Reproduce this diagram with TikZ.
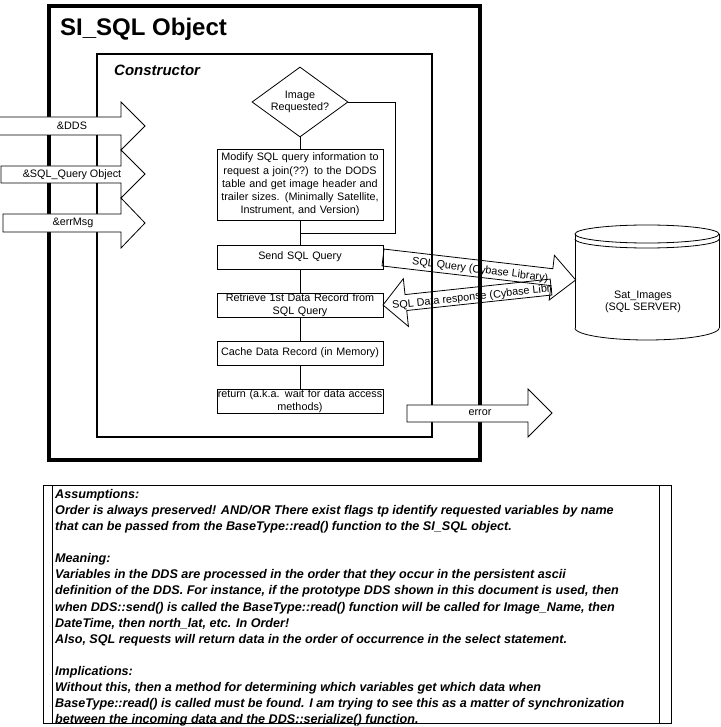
\documentclass[tikz,border=0pt]{standalone}
\usepackage{fontspec}
\setmainfont{Liberation Sans}
\newfontfamily\notefont{Liberation Sans}
\usetikzlibrary{shapes.geometric}
\tikzset{
  thin line/.style={line width=0.8pt},
  flowbox/.style={draw, thin line, text width=166pt, align=center, inner sep=0pt,
     font=\fontsize{10.8}{13.2}\selectfont},
  blockarrow/.style={draw, thin line, fill=white, line join=miter},
  hollowarrow/.style={draw, thin line, line join=miter},
  conn/.style={draw, thin line},
  lbl/.style={inner sep=0pt, font=\fontsize{10.8}{13.2}\selectfont},
}
\begin{document}
\begin{tikzpicture}[x=1pt,y=-1pt]
\useasboundingbox[fill=white] (0,0) rectangle (720,727);

% outer object box and constructor box
\node[draw, line width=4pt, minimum width=431pt, minimum height=454pt, inner sep=0pt] (outer) at (264.5,233) {};
\node[anchor=west, inner sep=0pt, font=\bfseries\fontsize{24}{24}\selectfont] (title) at (60,29) {SI\_SQL Object};
\node[draw, line width=2pt, minimum width=334.5pt, minimum height=382.8pt, inner sep=0pt] (inner) at (264.55,245.4) {};
\node[anchor=west, inner sep=0pt, font=\bfseries\itshape\fontsize{15}{15}\selectfont] (ctor) at (114,70) {Constructor};

% flowchart
\node[diamond, draw, thin line, aspect=1.37, inner sep=0pt, minimum width=96pt, minimum height=70pt,
      align=center, font=\fontsize{10.8}{12.5}\selectfont] (img) at (300,102) {Image\\Requested?};
\node[flowbox, minimum height=71pt] (modify) at (300,184.5) {Modify SQL query information to\\request a join(??) to the DODS\\table and get image header and\\trailer sizes. (Minimally Satellite,\\Instrument, and Version)};
\node[flowbox, minimum height=24pt] (send) at (300,257) {Send SQL Query};
\node[flowbox, minimum height=24pt] (retrieve) at (300,305) {Retrieve 1st Data Record from\\SQL Query};
\node[flowbox, minimum height=24pt] (cache) at (300,353) {Cache Data Record (in Memory)};
\node[flowbox, minimum height=24pt] (ret) at (300,401) {return (a.k.a. wait for data access\\methods)};

\coordinate (join) at (300,233);
\coordinate (loopc) at (395,233);
\draw[conn] (img.south) -- (modify.north);
\draw[conn] (modify.south) -- (send.north);
\draw[conn] (send.south) -- (retrieve.north);
\draw[conn] (retrieve.south) -- (cache.north);
\draw[conn] (cache.south) -- (ret.north);
\draw[conn] (img.east) -| (loopc) -- (join);

% input block arrows
\path[blockarrow] (-2,117) -- (121,117) -- (121,102) -- (145,126) -- (121,150) -- (121,135) -- (-2,135) -- cycle;
\node[lbl] (dds) at (72,126) {\&DDS};
\path[blockarrow] (1,166) -- (121,166) -- (121,150) -- (145,174) -- (121,198) -- (121,183) -- (1,183) -- cycle;
\node[lbl] (sqlq) at (72,174.5) {\&SQL\_Query Object};
\path[blockarrow] (3,214) -- (121,214) -- (121,198) -- (145,223) -- (121,248) -- (121,232) -- (3,232) -- cycle;
\node[lbl] (err) at (73,223) {\&errMsg};

% error output arrow
\path[blockarrow] (407,405) -- (528,405) -- (528,389) -- (552,413) -- (528,437) -- (528,422) -- (407,422) -- cycle;
\node[lbl] (errout) at (480,413) {error};

% database cylinder
\begin{scope}[thin line]
  \draw (647,234) ellipse [x radius=72, y radius=9];
  \draw plot[domain=0:180, samples=50] ({647+72*cos(\x)}, {239+9*sin(\x)});
  \draw (575,234) -- (575,328);
  \draw (719,234) -- (719,328);
  \draw plot[domain=0:180, samples=50] ({647+72*cos(\x)}, {328+12*sin(\x)});
\end{scope}
\node[lbl, align=center, font=\fontsize{10.8}{12.5}\selectfont] (db) at (643,302) {Sat\_Images\\(SQL SERVER)};

% SQL query arrow (to server)
\begin{scope}[shift={(383,257.5)}, rotate=-6.65]
  \path[hollowarrow] (0,-8.5) -- (170,-8.5) -- (170,-22) -- (194,0) -- (170,23) -- (170,8.5) -- (0,8.5) -- cycle;
  \node[lbl, rotate=-7] (qtext) at (98,1.5) {SQL Query (Cybase Library)};
\end{scope}

% SQL data response arrow (from server)
\begin{scope}[shift={(383,305)}, rotate=6.1]
  \path[hollowarrow] (0,0) -- (23,-24) -- (23,-8) -- (169,-8) -- (169,8) -- (23,8) -- (23,24) -- cycle;
  \begin{scope}
    \clip (0,-14) rectangle (169,14);
    \node[lbl, anchor=west, rotate=6.1] (rtext) at (9,2) {SQL Data response (Cybase Library)};
  \end{scope}
\end{scope}

% notes box
\draw[thin line] (43,485) rectangle (671,723);
\draw[thin line] (52,485) -- (52,723);
\draw[thin line] (659,485) -- (659,723);
\node[anchor=north west, inner sep=0pt, align=left,
      font=\notefont\bfseries\itshape\fontsize{12.6}{16.1}\selectfont] (notes) at (55,489) {%
Assumptions:\\
Order is always preserved! AND/OR There exist flags tp identify requested variables by name\\
that can be passed from the BaseType::read() function to the SI\_SQL object.\\[16.1pt]
Meaning:\\
Variables in the DDS are processed in the order that they occur in the persistent ascii\\
definition of the DDS. For instance, if the prototype DDS shown in this document is used, then\\
when DDS::send() is called the BaseType::read() function will be called for Image\_Name, then\\
DateTime, then north\_lat, etc. In Order!\\
Also, SQL requests will return data in the order of occurrence in the select statement.\\[16.1pt]
Implications:\\
Without this, then a method for determining which variables get which data when\\
BaseType::read() is called must be found. I am trying to see this as a matter of synchronization\\
between the incoming data and the DDS::serialize() function.};
\end{tikzpicture}
\end{document}
